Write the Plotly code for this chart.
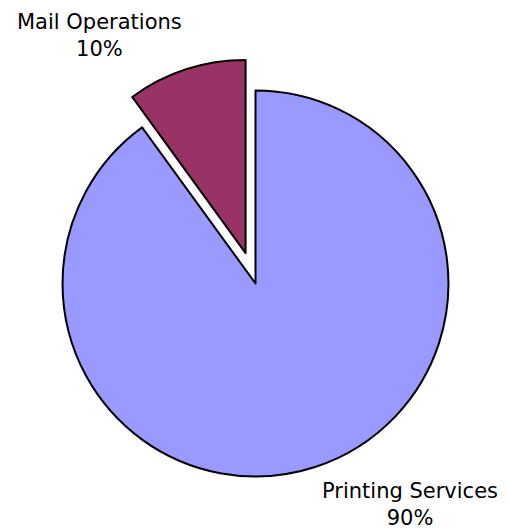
import plotly.graph_objects as go

categories = ["Printing Services", "Mail Operations"]
values = [90, 10]
pulls = [0, 0.166]
colors = ["#9999FF", "#993366"]
label_texts = ["Printing Services<br>90%", "Mail Operations<br>10%"]

fig = go.Figure()
fig.add_trace(go.Pie(
    labels=categories,
    values=values,
    pull=pulls,
    sort=False,
    direction="clockwise",
    rotation=0,
    textinfo="none",
    hoverinfo="label+percent",
    marker=dict(colors=colors, line=dict(color="black", width=2)),
    domain=dict(x=[0.0599, 0.944], y=[0.0424, 0.8898]),
    showlegend=False,
))

fig.add_annotation(text=label_texts[1], x=0.196, y=0.934, xref="paper", yref="paper",
                   xanchor="center", yanchor="middle", showarrow=False,
                   font=dict(family="DejaVu Sans", size=21, color="black"))
fig.add_annotation(text=label_texts[0], x=0.805, y=0.049, xref="paper", yref="paper",
                   xanchor="center", yanchor="middle", showarrow=False,
                   font=dict(family="DejaVu Sans", size=21, color="black"))

fig.update_layout(width=509, height=531, margin=dict(l=0, r=0, t=0, b=0),
                  paper_bgcolor="white", plot_bgcolor="white")
fig.write_html("out.html", config={"displayModeBar": False},
               post_script="document.body.style.margin='0';document.body.style.overflow='hidden';")
